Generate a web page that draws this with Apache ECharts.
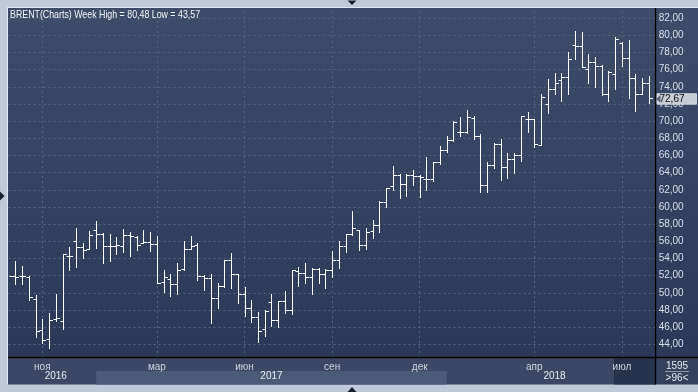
<!DOCTYPE html>
<html><head><meta charset="utf-8">
<script src="https://cdn.jsdelivr.net/npm/echarts@6/dist/echarts.min.js"></script>
<style>html,body{margin:0;padding:0;background:#bfc9d8;}#c{width:698px;height:392px;}</style>
</head><body><div id="c"></div>
<script>
// ---- data (weekly OHLC, first week starts 2016-10-03) ----
const firstWeek = '2016-10-03';
const opens = [49.2,51.9,51.9,51.85,49.3,45.7,44.6,46.9,46.7,54.3,56.0,55.3,55.1,57.3,56.8,55.5,55.5,55.4,56.7,56.5,55.8,55.9,55.7,51.3,51.65,51.0,52.8,55.15,55.6,52.0,51.77,49.4,50.8,53.8,52.16,49.9,48.27,47.2,45.8,48.9,46.87,49.0,47.96,52.5,52.3,51.85,52.8,52.24,52.6,53.83,55.5,56.8,57.3,55.6,57.16,57.94,60.54,62.4,63.73,62.68,63.77,63.6,63.26,63.26,65.2,66.6,67.84,68.7,68.7,70.4,68.23,62.6,64.9,67.35,64.6,65.62,66.1,70.23,70.3,67.2,72.0,73.8,74.8,75.09,78.85,78.78,76.06,76.84,76.45,73.15,75.48,79.16,77.3,74.97,73.15,74.5];
const highs = [52.2,53.67,53.1,51.93,49.7,46.9,47.6,49.9,54.5,55.3,57.5,55.8,57.2,58.37,57.0,56.9,56.5,57.4,57.1,56.6,57.3,57.1,56.6,52.6,52.2,53.5,56.0,56.6,55.8,52.1,52.16,51.15,53.8,54.65,52.2,50.7,49.13,47.77,48.04,49.83,49.0,50.18,52.6,53.0,53.5,52.9,52.9,52.8,54.87,56.06,56.85,59.57,57.33,57.5,58.5,60.66,62.2,64.74,63.8,63.88,64.35,63.77,65.83,65.2,67.15,68.31,69.98,70.48,71.34,70.64,68.5,65.2,67.5,67.95,66.3,66.28,70.62,71.09,70.3,73.15,74.9,75.6,75.57,78.0,80.48,80.4,77.8,77.53,76.5,75.86,79.75,79.24,79.48,75.48,74.97,75.28];
const lows = [48.8,51.0,51.0,49.2,44.9,44.1,43.57,46.7,45.8,52.7,53.0,54.0,55.1,55.2,53.5,53.7,54.5,54.7,54.3,55.0,55.8,54.9,51.15,50.1,49.6,49.8,52.7,55.15,51.46,50.3,46.5,48.2,50.7,50.6,48.8,47.3,46.6,44.27,44.93,46.1,46.0,47.65,47.5,50.76,51.15,49.9,51.15,50.5,51.85,52.93,54.78,56.7,55.03,55.05,56.4,57.05,60.0,62.02,61.0,61.32,62.5,61.13,61.94,62.99,65.05,66.37,67.73,68.23,68.6,67.92,61.7,61.75,64.5,63.15,63.42,64.0,65.38,68.76,66.93,67.2,70.9,73.15,72.37,73.15,77.22,76.33,74.5,73.92,73.03,72.37,73.73,76.45,72.64,71.2,73.15,72.17];
const closes = [51.9,51.8,51.9,49.5,45.5,44.5,46.8,47.0,54.5,54.3,55.3,55.0,56.7,56.8,55.5,55.5,55.6,56.7,56.6,55.6,55.9,55.65,51.15,51.8,51.0,52.7,55.15,55.5,52.0,51.77,49.44,50.8,53.8,52.16,49.9,48.27,47.2,45.52,47.9,46.87,49.0,47.96,52.6,52.3,51.85,52.8,52.24,52.6,53.83,55.5,56.8,57.55,55.6,57.1,57.9,60.54,62.2,63.73,62.68,63.77,63.65,63.5,63.26,65.2,66.6,67.84,69.86,68.7,70.48,68.23,62.6,64.9,67.35,64.6,65.62,66.07,70.54,70.3,67.32,72.87,73.8,74.5,75.09,77.22,78.78,76.33,76.84,76.45,73.15,75.75,79.55,77.3,74.97,73.15,74.5,72.67];
const monthTickWeeks = ['2016-11-07','2017-03-06','2017-06-05','2017-09-04','2017-12-04','2018-04-02','2018-07-02'];
const monthTickLabels = ['ноя','мар','июн','сен','дек','апр','июл'];
const yearLabelWeeks = ['2016-11-21','2017-07-03','2018-04-23'];
const yearLabels = ['2016','2017','2018'];
const yearBand = ['2017-01-02','2018-01-01'];
const markedWeek = '2018-06-25';
const lastPrice = 72.67;
const titleText = 'BRENT(Charts) Week High = 80,48 Low = 43,57';
const footerTop = '1595';
const footerBottom = '>96<';
const yMin = 42, yMax = 84, yStep = 2;

// ---- categories ----
const weeks = [];
(function(){
  const d0 = new Date(firstWeek + 'T00:00:00Z');
  for (let k = 0; k < opens.length + 1; k++) {
    const d = new Date(d0.getTime() + k * 7 * 86400000);
    weeks.push(d.toISOString().slice(0,10));
  }
})();
const seriesData = opens.map((o,k)=>[k, o, highs[k], lows[k], closes[k]]);
const fmt = v => v.toFixed(2).replace('.', ',');

const chart = echarts.init(document.getElementById('c'), null, {renderer:'canvas'});
const FRAME = '#bfc9d8';
const plotGrad = new echarts.graphic.LinearGradient(0,0,0,1,[{offset:0,color:'#3e4b69'},{offset:1,color:'#2c3858'}]);
const gridStyle = {color:'#56657f', type:[2,3], width:1};
const FONT = 'Liberation Sans, Arial, sans-serif';

chart.setOption({
  backgroundColor: FRAME,
  animation: false,
  grid: {left: 8.6, right: 42.35, top: 1.0, bottom: 30.6, containLabel: false},
  xAxis: [
    {type:'category', data: weeks, boundaryGap:false, position:'bottom', z:0,
     axisLine:{show:false}, axisTick:{show:false}, axisLabel:{show:false},
     splitLine:{show:true, interval:(i,v)=>monthTickWeeks.includes(v), lineStyle:gridStyle}},
    {type:'category', data: weeks, boundaryGap:false, position:'bottom', z:20,
     axisLine:{show:false}, axisTick:{show:false}, splitLine:{show:false},
     axisLabel:{show:true, interval:(i,v)=>monthTickWeeks.includes(v),
       formatter:v=>monthTickLabels[monthTickWeeks.indexOf(v)] || '',
       color:'#cdd4e1', fontSize:10, lineHeight:10, margin:1, fontFamily:FONT}},
    {type:'category', data: weeks, boundaryGap:false, position:'bottom', z:20,
     axisLine:{show:false}, axisTick:{show:false}, splitLine:{show:false},
     axisLabel:{show:true, interval:(i,v)=>yearLabelWeeks.includes(v),
       formatter:v=>yearLabels[yearLabelWeeks.indexOf(v)] || '',
       color:'#e6ebf3', fontSize:10, lineHeight:10, margin:10, fontFamily:FONT}}
  ],
  yAxis: {type:'value', position:'right', min:yMin, max:yMax, interval:yStep, z:0,
    axisLine:{show:false}, axisTick:{show:false},
    splitLine:{show:true, lineStyle:gridStyle},
    axisLabel:{show:true, showMinLabel:false, showMaxLabel:false, margin:3,
      color:'#d8dfeb', fontSize:10, fontFamily:FONT, formatter:fmt}},
  series: [
    {type:'custom', xAxisIndex:0, yAxisIndex:0, z:5,
     encode:{x:0, y:[1,2,3,4]},
     data: seriesData,
     renderItem: function(params, api){
       const k = api.value(0);
       const o = api.coord([k, api.value(1)]);
       const h = api.coord([k, api.value(2)]);
       const l = api.coord([k, api.value(3)]);
       const c = api.coord([k, api.value(4)]);
       const x = Math.round(o[0]) + 0.5;
       const cs = params.coordSys;
       const st = {stroke:'#ffffff', lineWidth:1};
       const ch = [];
       const inside = x > cs.x + 2;
       const yo = Math.round(o[1]) + 0.5, yc = Math.round(c[1]) + 0.5;
       if (inside) {
         ch.push({type:'line', shape:{x1:x, y1:Math.round(h[1]), x2:x, y2:Math.round(l[1])+1}, style:st});
         ch.push({type:'line', shape:{x1:x-3, y1:yo, x2:x, y2:yo}, style:st});
       }
       ch.push({type:'line', shape:{x1:x, y1:yc, x2:x+3.5, y2:yc}, style:st});
       return {type:'group', children:ch};
     }}
  ]
});

// ---- decorations ----
function px(week){ return chart.convertToPixel({xAxisIndex:0}, week); }
const xBand0 = px(yearBand[0]), xBand1 = px(yearBand[1]);
const xMark = px(markedWeek);
const py = chart.convertToPixel({yAxisIndex:0}, lastPrice);
const R = 655.5;
const tri = (pts, z) => ({type:'polygon', shape:{points:pts}, style:{fill:'#1b2030'}, z:z||40, silent:true});
chart.setOption({graphic:[
  {type:'rect', shape:{x:7, y:7, width:691, height:350}, style:{fill:plotGrad}, z:-10, silent:true},
  // frames
  {type:'rect', shape:{x:0, y:0, width:698, height:7}, style:{fill:FRAME}, z:10, silent:true},
  {type:'rect', shape:{x:0, y:0, width:7, height:392}, style:{fill:FRAME}, z:10, silent:true},
  {type:'rect', shape:{x:0, y:384.5, width:698, height:8}, style:{fill:FRAME}, z:10, silent:true},
  // bottom strip
  {type:'rect', shape:{x:7, y:358, width:R-7, height:26.5}, style:{fill:'#3b4764'}, z:10, silent:true},
  {type:'rect', shape:{x:xBand0, y:371, width:xBand1-xBand0, height:13.5}, style:{fill:'#4b5a77'}, z:11, silent:true},
  {type:'rect', shape:{x:xMark, y:358, width:R-xMark, height:26.5}, style:{fill:'#27324d'}, z:11, silent:true},
  {type:'rect', shape:{x:xMark-1, y:358, width:1, height:26.5}, style:{fill:'#1f2940'}, z:11, silent:true},
  {type:'rect', shape:{x:R, y:358, width:698-R, height:26.5}, style:{fill:'#34405c'}, z:10, silent:true},
  // black separators
  {type:'rect', shape:{x:7, y:356.8, width:691, height:1.5}, style:{fill:'#000000'}, z:12, silent:true},
  {type:'rect', shape:{x:654.9, y:7, width:1.3, height:377.5}, style:{fill:'#000000'}, z:12, silent:true},
  // light edge
  {type:'rect', shape:{x:7, y:7, width:1, height:377.5}, style:{fill:'#dfe6f0'}, z:12, silent:true},
  {type:'rect', shape:{x:7, y:7, width:691, height:1}, style:{fill:'#dfe6f0'}, z:12, silent:true},
  // last price marker
  {type:'rect', shape:{x:657, y:py-4.5, width:39.5, height:10.5}, style:{fill:'#c7cbd3', stroke:'#e4e7ec', lineWidth:0.8}, z:30, silent:true},
  {type:'polygon', shape:{points:[[655.8, py+0.7],[660.5, py-3],[660.5, py+4.4]]}, style:{fill:'#5e6677'}, z:31, silent:true},
  {type:'text', x:659.5, y:py+0.9, style:{text:fmt(lastPrice), fill:'#101010', font:'10px Liberation Sans, Arial, sans-serif', verticalAlign:'middle'}, z:32, silent:true},
  // triangles
  tri([[347.5,0.5],[356.5,0.5],[352,5]]),
  tri([[347.5,392],[356.5,392],[352,387]]),
  tri([[0,191.5],[0,200.5],[4.5,196]]),
  // texts
  {type:'text', x:10, y:15, scaleX:0.84, style:{text:titleText, fill:'#f2f5fa', font:'10.5px "Liberation Sans", Arial, sans-serif', verticalAlign:'middle'}, z:30, silent:true},
  {type:'text', x:677, y:366, style:{text:footerTop, fill:'#e3e8f1', font:'10px Liberation Sans, Arial, sans-serif', align:'center', verticalAlign:'middle'}, z:30, silent:true},
  {type:'rect', shape:{x:665, y:371, width:24, height:1}, style:{fill:'#8d98ad'}, z:30, silent:true},
  {type:'text', x:677, y:378, style:{text:footerBottom, fill:'#e3e8f1', font:'10px Liberation Sans, Arial, sans-serif', align:'center', verticalAlign:'middle'}, z:30, silent:true}
]});
</script></body></html>
